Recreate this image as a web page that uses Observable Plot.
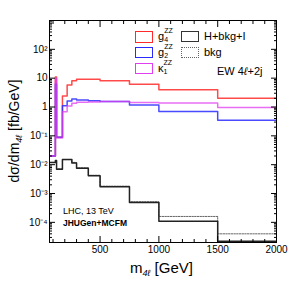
<!DOCTYPE html>
<html><head><meta charset="utf-8">
<script src="https://cdn.jsdelivr.net/npm/d3@7"></script>
<script src="https://cdn.jsdelivr.net/npm/@observablehq/plot@0.6"></script>
<style>
body{margin:0;background:#fff;}
#wrap{position:relative;width:291px;height:282px;font-family:"Liberation Sans",Arial,sans-serif;color:#000;}
.ov{position:absolute;white-space:nowrap;line-height:1;}
.box{position:absolute;box-sizing:border-box;}
.ss{display:inline-block;position:relative;width:12px;height:11px;vertical-align:top;}
.ss span{position:absolute;left:0;font-size:7px;line-height:1;}
</style></head><body><div id="wrap"></div>
<script>
// bin edges (GeV) and per-bin dσ/dm4l values (fb/GeV)
const edges = [70,120,130,180,220,260,300,400,500,750,1000,1500,2000];
const g4  = [0.02, 11,   0.09,  2.4,  5.8,  8.2,  9.2,  9.2,  8.1,  6.2,  4.0,  2.0];
const g2  = [0.02, 6.3,  0.09,  1.1,  1.6,  1.9,  1.75, 1.65, 1.55, 1.17, 0.7,  0.35];
const k1  = [0.02, 10,   0.085, 0.69, 1.08, 1.35, 1.45, 1.5,  1.55, 1.42, 1.38, 0.97];
const hbi = [0.012,0.014,0.0069,0.015,0.015,0.0115,0.0075,0.0041,0.0017,0.00049,0.00011,0.000022];
const bkg = [0.012,0.014,0.0072,0.015,0.015,0.012,0.0078,0.0043,0.0018,0.00052,0.00016,0.00004];

const xMajor = [500,1000,1500,2000];
const xMinor = d3.range(100,2000,100).filter(d => d % 500 !== 0);
const yMajor = [1e-4,1e-3,1e-2,1e-1,1,10,100];
const yMinor = [];
for (let e = -5; e <= 2; e++) for (let m = 2; m <= 9; m++) yMinor.push(m * Math.pow(10, e));

const supMap = {"-":"⁻","0":"⁰","1":"¹","2":"²","3":"³","4":"⁴","5":"⁵","6":"⁶","7":"⁷","8":"⁸","9":"⁹"};
const yFmt = d => { const e = Math.round(Math.log10(d)); if (e === 0) return "1"; if (e === 1) return "10"; return "10" + String(e).split("").map(c => supMap[c]).join(""); };

function steps(vals){
  const pts = vals.map((v,i) => ({x: edges[i], y: v}));
  pts.push({x: edges[edges.length-1], y: vals[vals.length-1]});
  return pts;
}
const blank = () => "";

const chart = Plot.plot({
  width: 291, height: 282,
  marginLeft: 49, marginRight: 15, marginTop: 20, marginBottom: 40,
  style: {fontFamily: "Liberation Sans, Arial, sans-serif", fontSize: "10px", color: "#000", background: "#fff", overflow: "visible"},
  x: {domain: [70, 2000], label: null},
  y: {type: "log", domain: [2e-5, 1000], label: null},
  marks: [
    Plot.line(steps(bkg), {x: "x", y: "y", curve: "step-after", stroke: "#666", strokeWidth: 1, strokeDasharray: "1.5,1.2", clip: true}),
    Plot.line(steps(hbi), {x: "x", y: "y", curve: "step-after", stroke: "#222", strokeWidth: 1.5, clip: true}),
    Plot.line(steps(g4), {x: "x", y: "y", curve: "step-after", stroke: "#ff2a2a", strokeWidth: 1.5, strokeOpacity: 0.85, clip: true}),
    Plot.line(steps(g2), {x: "x", y: "y", curve: "step-after", stroke: "#2a2aff", strokeWidth: 1.5, strokeOpacity: 0.85, clip: true}),
    Plot.line(steps(k1), {x: "x", y: "y", curve: "step-after", stroke: "#e03ef0", strokeWidth: 1.5, strokeOpacity: 0.75, clip: true}),
    Plot.frame({stroke: "#000", strokeWidth: 1}),
    Plot.axisX(xMajor, {anchor: "bottom", tickSize: -6, tickPadding: 9, tickFormat: d => String(d), label: null}),
    Plot.axisX(xMinor, {anchor: "bottom", tickSize: -3, tickFormat: blank, label: null}),
    Plot.axisX(xMajor, {anchor: "top", tickSize: -6, tickFormat: blank, label: null}),
    Plot.axisX(xMinor, {anchor: "top", tickSize: -3, tickFormat: blank, label: null}),
    Plot.axisY(yMajor, {anchor: "left", tickSize: -6, tickPadding: 8, tickFormat: yFmt, label: null}),
    Plot.axisY(yMinor, {anchor: "left", tickSize: -3, tickFormat: blank, label: null}),
    Plot.axisY(yMajor, {anchor: "right", tickSize: -6, tickFormat: blank, label: null}),
    Plot.axisY(yMinor, {anchor: "right", tickSize: -3, tickFormat: blank, label: null})
  ]
});
const wrap = document.getElementById("wrap");
wrap.appendChild(chart);

function ov(html, css){ const d = document.createElement("div"); d.className = "ov"; d.innerHTML = html; Object.assign(d.style, css); wrap.appendChild(d); return d; }
function box(css){ const d = document.createElement("div"); d.className = "box"; Object.assign(d.style, css); wrap.appendChild(d); }

// axis titles
ov('m<sub style="font-size:9px;vertical-align:-3px;font-style:italic">4ℓ</sub> [GeV]', {left: "130px", top: "260px", fontSize: "15px"});
ov('dσ/dm<sub style="font-size:9px;vertical-align:-3px;font-style:italic">4ℓ</sub> [fb/GeV]', {left: "15px", top: "131px", fontSize: "14px", transform: "translate(-50%,-50%) rotate(-90deg)"});

// legend
box({left: "135px", top: "31px", width: "18px", height: "12px", border: "1.5px solid #ff2a2a"});
box({left: "135px", top: "47px", width: "18px", height: "11px", border: "1.5px solid #2a2aff"});
box({left: "135px", top: "63px", width: "18px", height: "11px", border: "1.5px solid #e03ef0"});
box({left: "181px", top: "31px", width: "18px", height: "11px", border: "1.5px solid #333"});
box({left: "181px", top: "47px", width: "18px", height: "11px", border: "1px dotted #666"});
const gl = (base, sub) => base + '<span class="ss"><span style="top:-4px">ZZ</span><span style="top:4.5px">' + sub + '</span></span>';
ov(gl("g","4"), {left: "158px", top: "31px", fontSize: "11px"});
ov(gl("g","2"), {left: "158px", top: "47px", fontSize: "11px"});
ov(gl("κ","1"), {left: "158px", top: "63px", fontSize: "11px"});
ov("H+bkg+I", {left: "204px", top: "31px", fontSize: "11px"});
ov("bkg", {left: "204px", top: "47px", fontSize: "11px"});
ov("EW 4<i>ℓ</i>+2j", {left: "217px", top: "66px", fontSize: "11px"});

// annotations
ov("LHC, 13 TeV", {left: "63px", top: "207px", fontSize: "9px"});
ov("JHUGen+MCFM", {left: "63px", top: "219px", fontSize: "8.5px", fontWeight: "bold"});
</script></body></html>
